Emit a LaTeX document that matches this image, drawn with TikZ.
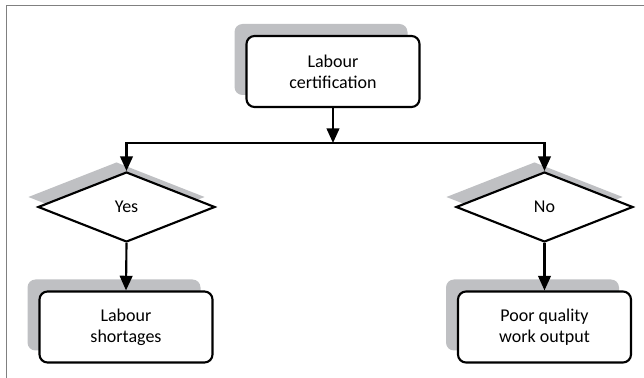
\documentclass[tikz,border=0pt]{standalone}
\usepackage{fontspec}
\setmainfont{Carlito}
\usetikzlibrary{shapes.geometric,arrows.meta,shadows}
\definecolor{shade}{HTML}{BFC0C3}
\definecolor{framegray}{HTML}{808080}
\tikzset{
  box/.style={draw=black, line width=1.6pt, fill=white, rounded corners=6pt,
    minimum width=129.75pt, minimum height=53.25pt, align=center,
    font=\fontsize{13.5}{15.75}\selectfont,
    general shadow={fill=shade, shadow xshift=-9pt, shadow yshift=9pt}},
  choice/.style={draw=black, line width=1.6pt, fill=white, diamond, aspect=2.5,
    minimum width=132.75pt, minimum height=52.5pt, inner sep=1pt,
    font=\fontsize{13.5}{15.75}\selectfont,
    general shadow={fill=shade, shadow xshift=-7.5pt, shadow yshift=7.5pt}},
  arr/.style={line width=1.6pt, -{Triangle[width=9.5pt,length=11pt]}},
  framestyle/.style={draw=framegray, line width=1.2pt}
}
\begin{document}
\begin{tikzpicture}[x=0.75pt,y=-0.75pt]
\useasboundingbox (0,0) rectangle (644,378);
\draw[framestyle] (6.5,378) -- (6.5,5.5) -- (644,5.5);
\node[box] (cert) at (333,71.5) {Labour\\certification};
\node[choice] (yes) at (126.5,207) {Yes};
\node[choice] (no) at (544.5,207) {No};
\node[box] (short) at (126,327) {Labour\\shortages};
\node[box] (poor) at (544.5,327) {Poor quality\\work output};
\coordinate (j) at (333,143);
\draw[arr] (cert.south) -- (j);
\draw[arr] (j) -| (yes.north);
\draw[arr] (j) -| (no.north);
\draw[arr] (yes.south) -- (short.north);
\draw[arr] (no.south) -- (poor.north);
\end{tikzpicture}
\end{document}
